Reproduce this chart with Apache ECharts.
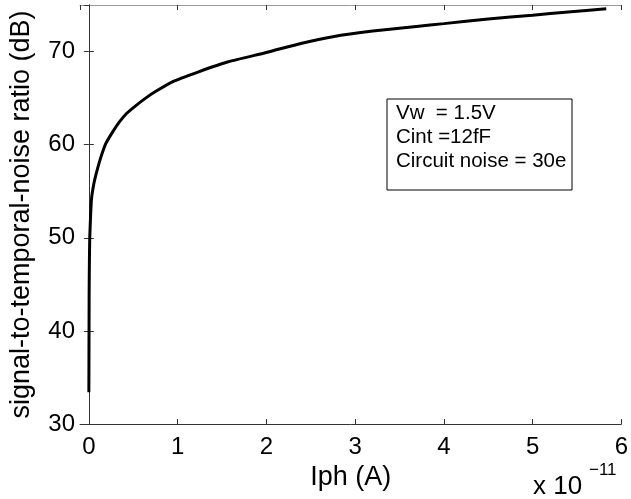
<!DOCTYPE html>
<html>
<head>
<meta charset="utf-8">
<script src="https://cdn.jsdelivr.net/npm/echarts@6/dist/echarts.min.js"></script>
<style>
  html, body { margin: 0; padding: 0; background: #fff; }
  #chart { width: 631px; height: 499px; }
</style>
</head>
<body>
<div id="chart"></div>
<script>
// photocurrent (x 1e-11 A) and SNR (dB)
const iph = [0, 0.003, 0.006, 0.01, 0.02, 0.03, 0.05, 0.07, 0.1, 0.13, 0.19, 0.27, 0.34, 0.43, 0.53, 0.64, 0.75, 0.94, 1.23, 1.57, 2.0, 2.4, 2.75, 3.2, 3.69, 4.0, 4.5, 5.0, 5.4, 5.83]
const snr = [33.4, 44, 47.5, 50, 52.5, 54.2, 55.5, 56.4, 57.5, 58.5, 60.1, 61.4, 62.4, 63.4, 64.2, 65.0, 65.7, 66.75, 67.8, 68.9, 69.9, 70.9, 71.6, 72.2, 72.7, 73.0, 73.5, 73.9, 74.25, 74.6]
const xTicks = [0, 1, 2, 3, 4, 5, 6]
const yTicks = [30, 40, 50, 60, 70]
const noteLines = ['Vw  = 1.5V', 'Cint =12fF', 'Circuit noise = 30e']

const font = '"Liberation Sans", Arial, Helvetica, sans-serif'
const chart = echarts.init(document.getElementById('chart'))

const tickStyle = { inside: true, length: 5, lineStyle: { color: '#333', width: 1 } }

chart.setOption({
  animation: false,
  grid: { left: 76, top: 5, right: 6, bottom: 75, containLabel: false },
  xAxis: [{
    type: 'value',
    min: -0.1,
    max: 6,
    splitNumber: 6,
    name: 'Iph (A)',
    nameLocation: 'middle',
    nameGap: 34,
    nameTextStyle: { fontFamily: font, fontSize: 27, color: '#000' },
    axisLine: { show: true, lineStyle: { color: '#333', width: 1 } },
    axisTick: tickStyle,
    splitLine: { show: false },
    axisLabel: {
      fontFamily: font, fontSize: 24, color: '#000', margin: 11,
      showMinLabel: false,
      formatter: v => xTicks.includes(v) ? String(v) : ''
    }
  }, {
    type: 'value',
    position: 'top',
    min: -0.1,
    max: 6,
    splitNumber: 6,
    axisLine: { show: true, lineStyle: { color: '#999', width: 1 } },
    axisTick: tickStyle,
    axisLabel: { show: false },
    splitLine: { show: false }
  }],
  yAxis: [{
    type: 'value',
    min: 30,
    max: 75,
    interval: 10,
    name: 'signal-to-temporal-noise ratio (dB)',
    nameLocation: 'middle',
    nameGap: 45,
    nameTextStyle: { fontFamily: font, fontSize: 27, color: '#000' },
    axisLine: { show: true, lineStyle: { color: '#333', width: 1 } },
    axisTick: tickStyle,
    splitLine: { show: false },
    axisLabel: {
      fontFamily: font, fontSize: 24, color: '#000', margin: 5,
      showMaxLabel: false,
      formatter: v => yTicks.includes(v) ? String(v) : ''
    }
  }, {
    type: 'value',
    position: 'right',
    min: 30,
    max: 75,
    interval: 10,
    axisLine: { show: true, lineStyle: { color: '#333', width: 1 } },
    axisTick: tickStyle,
    axisLabel: { show: false },
    splitLine: { show: false }
  }],
  series: [{
    type: 'line',
    data: iph.map((x, i) => [x, snr[i]]),
    showSymbol: false,
    smooth: 0.2,
    lineStyle: { color: '#000', width: 3 }
  }],
  graphic: [
    {
      type: 'rect',
      shape: { x: 387, y: 99, width: 185, height: 91 },
      style: { fill: '#fff', stroke: '#000', lineWidth: 1 },
      z: 10
    },
    ...noteLines.map((t, i) => ({
      type: 'text',
      x: 396,
      y: 113 + i * 24,
      style: { text: t, fontFamily: font, fontSize: 20.5, fill: '#000', verticalAlign: 'middle' },
      z: 11
    })),
    {
      type: 'text', x: 533, y: 487,
      style: { text: 'x 10', fontFamily: font, fontSize: 26, fill: '#000', verticalAlign: 'middle' }
    },
    {
      type: 'text', x: 589, y: 470,
      style: { text: '\u221211', fontFamily: font, fontSize: 17, fill: '#000', verticalAlign: 'middle' }
    }
  ]
})
</script>
</body>
</html>
